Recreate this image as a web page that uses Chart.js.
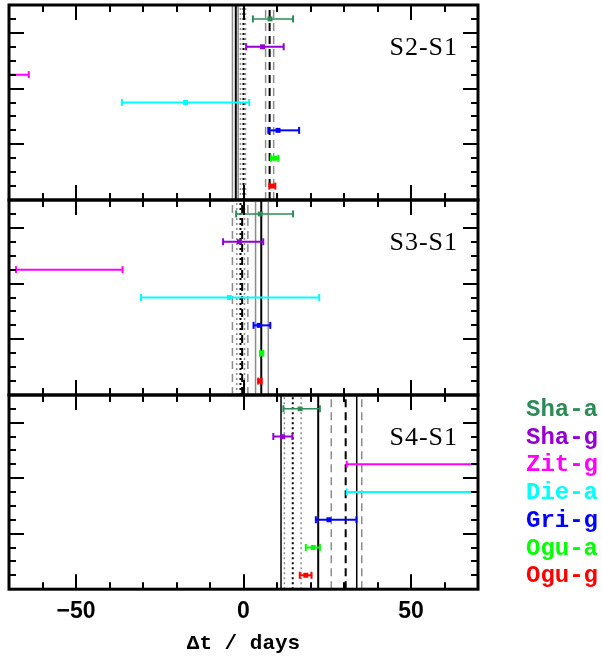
<!DOCTYPE html>
<html lang="en">
<head>
  <meta charset="UTF-8" />
  <title>Time delays S2-S1, S3-S1, S4-S1</title>
  <script src="https://cdn.jsdelivr.net/npm/chart.js"></script>
  <style>
    body { margin: 0; background: #fff; }
    #wrap { position: relative; width: 602px; height: 661px; }
    canvas { position: absolute; left: 0; }
  </style>
</head>
<body>
  <div id="wrap">
    <canvas id="p1" width="602" height="204" style="top:0px"></canvas>
    <canvas id="p2" width="602" height="199" style="top:198px"></canvas>
    <canvas id="p3" width="602" height="268" style="top:393px"></canvas>
  </div>

  <script>
    // rows, top to bottom
    const labels = ['Sha-a', 'Sha-g', 'Zit-g', 'Die-a', 'Gri-g', 'Ogu-a', 'Ogu-g'];
    const rows = [6.5, 5.5, 4.5, 3.5, 2.5, 1.5, 0.5];
    const colors = ['#2e8b57', '#9400d3', '#ff00ff', '#00ffff', '#0000ff', '#00ff00', '#ff0000'];

    // S2-S1 (days); null = centre off the plot
    const s21Mid = [7.9, 5.7, null, -17.3, 10.3, 9.3, 8.6];
    const s21Lo  = [2.8, 0.8, -80, -36.3, 7.4, 8.2, 7.7];
    const s21Hi  = [14.8, 12.0, -64.1, 1.7, 16.6, 10.4, 9.5];
    const s21Solid  = [-3.3, -2.3, -1.6];
    const s21Dotted = [-0.9, 0.0, 0.6];
    const s21Dashed = [6.6, 7.8, 9.0];

    // S3-S1
    const s31Mid = [5.0, -1.2, null, -4.2, 4.7, 5.4, 4.9];
    const s31Lo  = [-2.2, -6.1, -67.9, -30.6, 3.0, 4.9, 4.4];
    const s31Hi  = [14.8, 5.9, -36.1, 22.6, 8.0, 5.9, 5.4];
    const s31Solid  = [3.6, 5.3, 7.4];
    const s31Dotted = [-2.0, -0.9, 0.3];
    const s31Dashed = [-3.3, -0.4, 1.3];

    // S4-S1
    const s41Mid = [16.9, 11.7, null, null, 25.5, 20.8, 18.6];
    const s41Lo  = [11.9, 8.9, 30.8, 30.8, 21.6, 18.6, 16.8];
    const s41Hi  = [22.8, 14.6, 90, 90, 33.7, 22.8, 20.3];
    const s41Solid  = [11.2, 22.3, 33.8];
    const s41Dotted = [12.2, 14.7, 17.2];
    const s41Dashed = [26.2, 30.5, 35.3];

    const GRAY = '#8c8c8c';

    function vlines(vals, dash, errColor) {
      return vals.map((v, k) => ({
        data: [{ x: v, y: 0 }, { x: v, y: 7 }],
        showLine: true,
        borderColor: k === 1 ? '#000' : errColor,
        borderWidth: k === 1 ? 2 : 1.5,
        borderDash: dash,
        pointRadius: 0,
        order: 3
      }));
    }

    function errBars(lo, hi) {
      return labels.map((name, i) => ({
        label: name,
        data: [{ x: lo[i], y: rows[i] }, { x: hi[i], y: rows[i] }],
        showLine: true,
        borderColor: colors[i],
        borderWidth: i === 0 ? 1.5 : 2,
        pointStyle: 'line',
        rotation: 90,
        pointRadius: 3.5,
        pointBorderWidth: 2,
        pointBorderColor: colors[i],
        order: 2
      }));
    }

    function markers(mid) {
      const pts = [], cols = [];
      mid.forEach((m, i) => {
        if (m !== null) { pts.push({ x: m, y: rows[i] }); cols.push(colors[i]); }
      });
      return {
        data: pts,
        pointStyle: 'rect',
        pointRadius: 3.5,
        pointBorderWidth: 0,
        backgroundColor: cols,
        order: 1
      };
    }

    const framePlugin = {
      id: 'frame',
      afterDraw(chart, args, opts) {
        const ctx = chart.ctx, a = chart.chartArea;
        const xs = chart.scales.x, ys = chart.scales.y;
        ctx.save();
        ctx.strokeStyle = '#000';
        ctx.lineWidth = 2;
        ctx.beginPath();
        for (let v = -60; v <= 60; v += 10) {
          const px = Math.round(xs.getPixelForValue(v));
          const len = v % 50 === 0 ? 15 : 7;
          ctx.moveTo(px, a.bottom); ctx.lineTo(px, a.bottom - len);
          ctx.moveTo(px, a.top); ctx.lineTo(px, a.top + len);
        }
        for (let v = 0.5; v < 7; v += 0.5) {
          const py = Math.round(ys.getPixelForValue(v));
          const len = v % 2 === 0 ? 15 : 7;
          ctx.moveTo(a.left, py); ctx.lineTo(a.left + len, py);
          ctx.moveTo(a.right, py); ctx.lineTo(a.right - len, py);
        }
        ctx.stroke();
        ctx.lineWidth = 3;
        ctx.strokeRect(a.left, a.top, a.right - a.left, a.bottom - a.top);

        // panel name
        ctx.fillStyle = '#000';
        ctx.font = '26px "Liberation Serif"';
        ctx.letterSpacing = '1px';
        ctx.textAlign = 'right';
        ctx.textBaseline = 'alphabetic';
        ctx.fillText(opts.name, a.left + 449, a.top + 50);
        ctx.letterSpacing = '0px';

        // colour key next to the bottom panel
        if (opts.key) {
          ctx.font = 'bold 24px "Liberation Mono"';
          ctx.textAlign = 'left';
          ctx.textBaseline = 'middle';
          labels.forEach((name, i) => {
            ctx.fillStyle = colors[i];
            ctx.fillText(name, 526, ys.getPixelForValue(rows[i]) + 1);
          });
        }
        ctx.restore();
      }
    };

    function makePanel(id, name, mid, lo, hi, solid, dotted, dashed, solidErr, bottom, pad) {
      const datasets = [
        markers(mid),
        ...errBars(lo, hi),
        ...vlines(solid, [], solidErr),
        ...vlines(dotted, [2, 3], GRAY),
        ...vlines(dashed, [8, 5], GRAY)
      ];
      new Chart(document.getElementById(id), {
        type: 'scatter',
        data: { datasets: datasets },
        options: {
          responsive: false,
          animation: false,
          events: [],
          layout: { autoPadding: false, padding: { left: 9, right: 124, top: pad.top, bottom: pad.bottom } },
          scales: {
            x: {
              type: 'linear', min: -70, max: 70,
              display: bottom,
              grid: { display: false, drawTicks: false },
              border: { display: false },
              ticks: {
                stepSize: 50, includeBounds: false, padding: 9, maxRotation: 0,
                color: '#000',
                font: { family: 'Liberation Sans', size: 23, weight: 'bold' },
                callback: v => (v < 0 ? '\u2212' + Math.abs(v) : String(v))
              },
              title: {
                display: true, text: 'Δt / days', color: '#000',
                font: { family: 'Liberation Mono', size: 21, weight: 'bold' },
                padding: { top: -4, bottom: 5 }
              }
            },
            y: { type: 'linear', min: 0, max: 7, display: false }
          },
          plugins: {
            legend: { display: false },
            tooltip: { enabled: false },
            frame: { name: name, key: bottom }
          }
        },
        plugins: [framePlugin]
      });
    }

    makePanel('p1', 'S2-S1', s21Mid, s21Lo, s21Hi, s21Solid, s21Dotted, s21Dashed, GRAY, false, { top: 5, bottom: 4 });
    makePanel('p2', 'S3-S1', s31Mid, s31Lo, s31Hi, s31Solid, s31Dotted, s31Dashed, GRAY, false, { top: 2, bottom: 2 });
    makePanel('p3', 'S4-S1', s41Mid, s41Lo, s41Hi, s41Solid, s41Dotted, s41Dashed, '#000', true, { top: 2, bottom: 0 });
  </script>
</body>
</html>
